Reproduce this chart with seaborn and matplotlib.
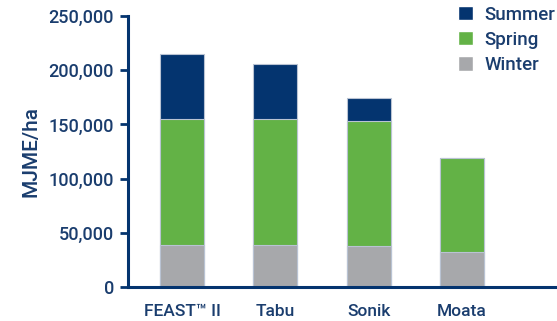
import matplotlib
matplotlib.use("Agg")
import matplotlib.pyplot as plt
import seaborn as sns
import numpy as np
from matplotlib.patches import Patch

categories = ["FEAST\u2122 II", "Tabu", "Sonik", "Moata"]
winter = [39000, 39000, 38000, 32000]
spring = [116000, 116000, 115000, 87000]
summer = [60000, 51000, 21000, 0]

NAVY = "#04346f"
GREEN = "#63b246"
GREY = "#a7a8ab"
TEXT = "#1a3d6e"

sns.set_theme(style="white")
plt.rcParams["font.family"] = ["Roboto", "DejaVu Sans"]

fig = plt.figure(figsize=(5.57, 3.21), dpi=100)
ax = fig.add_axes([0.2298, 0.106, 0.7702, 0.844])

w = np.array(winter)
sp = w + np.array(spring)
tot = sp + np.array(summer)

for vals, col in [(tot, NAVY), (sp, GREEN), (w, GREY)]:
    sns.barplot(x=categories, y=vals, color=col, width=0.47, ax=ax,
                edgecolor="#b9c3d3", linewidth=0.8, saturation=1)

ax.set_xlim(-0.58, 4.02)
ax.set_ylim(0, 250000)
ax.set_yticks([0, 50000, 100000, 150000, 200000, 250000])
ax.set_yticklabels(["0", "50,000", "100,000", "150,000", "200,000", "250,000"],
                   fontsize=13, color=TEXT, fontweight="medium")
ax.set_xticklabels(categories, fontsize=12.5, color=TEXT, fontweight="medium")
ax.set_ylabel("MJME/ha", fontsize=15, color=TEXT, fontweight="medium", labelpad=6)
ax.set_xlabel("")

for s in ["top", "right"]:
    ax.spines[s].set_visible(False)
for s in ["left", "bottom"]:
    ax.spines[s].set_color(NAVY)
    ax.spines[s].set_linewidth(2.2)
ax.tick_params(axis="y", which="both", left=True, length=6, width=2, color=NAVY, pad=4)
ax.tick_params(axis="x", bottom=False, pad=6)

handles = [Patch(facecolor=NAVY, label="Summer"),
           Patch(facecolor=GREEN, label="Spring"),
           Patch(facecolor=GREY, label="Winter")]
leg = ax.legend(handles=handles, loc="upper left", bbox_to_anchor=(0.752, 1.066),
                frameon=False, fontsize=13.5, handlelength=0.8, handleheight=0.8,
                handletextpad=0.6, labelspacing=0.38, borderaxespad=0)
for t in leg.get_texts():
    t.set_color(TEXT)
    t.set_fontweight("medium")

fig.savefig("out.png", dpi=100)
